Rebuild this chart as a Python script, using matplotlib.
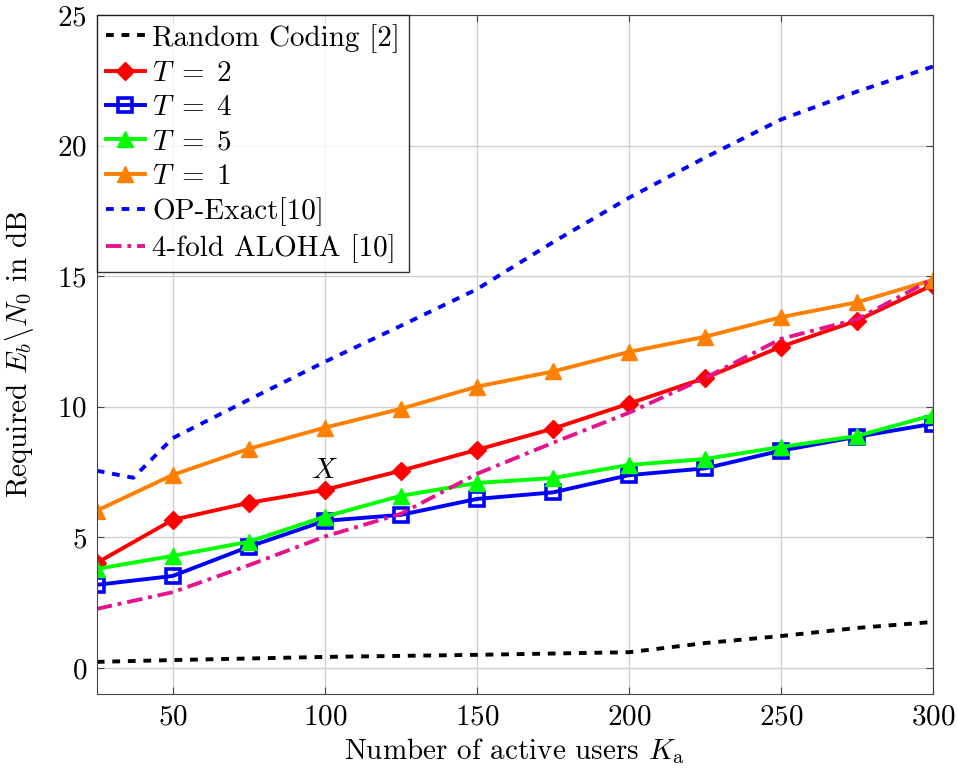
"""
Required Eb/N0 versus number of active users for several schemes.
"""
import matplotlib
matplotlib.use('Agg')
import matplotlib.pyplot as plt

plt.rcParams['font.family'] = 'serif'
plt.rcParams['font.serif'] = ['cmr10', 'DejaVu Serif']
plt.rcParams['mathtext.fontset'] = 'cm'
plt.rcParams['axes.formatter.use_mathtext'] = True

# Data
k_users = [25, 50, 75, 100, 125, 150, 175, 200, 225, 250, 275, 300]
t2 = [4.02, 5.67, 6.32, 6.82, 7.55, 8.35, 9.16, 10.12, 11.1, 12.3, 13.3, 14.67]
t4 = [3.18, 3.52, 4.64, 5.63, 5.86, 6.47, 6.72, 7.38, 7.64, 8.32, 8.85, 9.35]
t5 = [3.79, 4.29, 4.83, 5.79, 6.59, 7.08, 7.27, 7.77, 8.0, 8.46, 8.88, 9.68]
t1 = [6.02, 7.39, 8.39, 9.2, 9.92, 10.77, 11.35, 12.1, 12.68, 13.43, 14.0, 14.86]

k_rc = [25, 50, 100, 150, 200, 225, 250, 275, 300]
random_coding = [0.23, 0.3, 0.42, 0.5, 0.6, 0.95, 1.22, 1.53, 1.76]

k_op = [25, 37, 50, 75, 100, 125, 150, 175, 200, 225, 250, 275, 300]
op_exact = [7.55, 7.28, 8.8, 10.27, 11.72, 13.1, 14.5, 16.3, 18.0, 19.54,
            21.0, 22.07, 23.03]

aloha = [2.26, 2.9, 3.93, 5.03, 5.9, 7.43, 8.62, 9.77, 11.1, 12.6, 13.35,
         14.9]

fs = 21

fig = plt.figure(figsize=(9.58, 7.70), dpi=100)
ax = fig.add_axes([0.101, 0.0987, 0.873, 0.8818])

lw = 2.8
ax.plot(k_rc, random_coding, color='black', lw=lw, ls=(0, (2, 2)),
        label='Random Coding [2]')
ax.plot(k_users, t2, color='#ff0000', lw=lw, marker='D', ms=9,
        label=r'$T\;=\;2$')
ax.plot(k_users, t4, color='#0000ff', lw=lw, marker='s', ms=10,
        mfc='none', mew=2.6, label=r'$T\;=\;4$')
ax.plot(k_users, t5, color='#00ff00', lw=lw, marker='^', ms=12,
        label=r'$T\;=\;5$')
ax.plot(k_users, t1, color='#ff8000', lw=lw, marker='^', ms=12,
        label=r'$T\;=\;1$')
ax.plot(k_op, op_exact, color='#0000ff', lw=lw, ls=(0, (2, 2)),
        label='OP-Exact[10]')
ax.plot(k_users, aloha, color='#e6148c', lw=lw, ls=(0, (4, 1.5, 1, 1.5)),
        label='4-fold ALOHA [10]')

ax.text(100, 7.55, r'$X$', fontsize=fs, ha='center', va='center')

ax.set_xlim(25, 300)
ax.set_ylim(-1, 25)
ax.set_xticks([50, 100, 150, 200, 250, 300])
ax.set_yticks([0, 5, 10, 15, 20, 25])
ax.tick_params(direction='in', top=True, right=True, labelsize=fs,
               length=5, color='#444444', pad=7)
ax.grid(True, color='#d0d0d0', lw=1)
for spine in ax.spines.values():
    spine.set_color('#444444')

ax.set_xlabel(r'Number of active users $K_{\mathrm{a}}$', fontsize=fs,
              labelpad=4)
ax.set_ylabel(r'Required $E_b \backslash N_0$ in dB', fontsize=fs)
ax.yaxis.set_label_coords(-0.073, 0.5)

leg = ax.legend(loc='upper left', fontsize=fs, frameon=True, fancybox=False,
                borderpad=0.3, labelspacing=0.27, handlelength=1.35,
                handletextpad=0.25, borderaxespad=0.0)
leg.get_frame().set_edgecolor('black')
leg.get_frame().set_linewidth(1)

fig.savefig('out.png', dpi=100)
